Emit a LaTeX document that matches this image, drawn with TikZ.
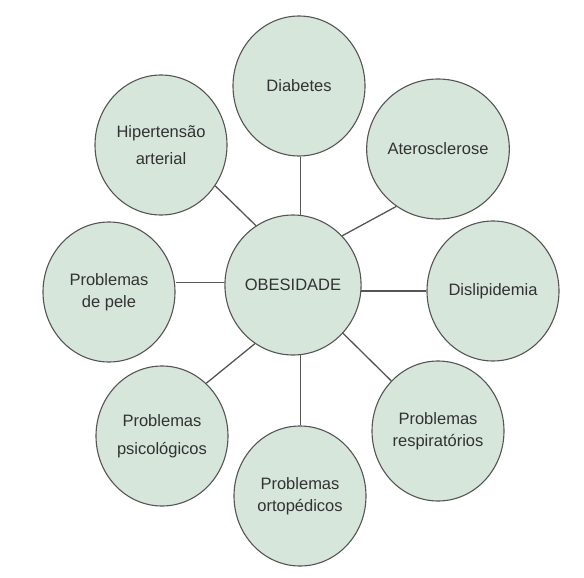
\documentclass[tikz,border=0pt]{standalone}
\usepackage{fontspec}
\setmainfont{Liberation Sans}
\usetikzlibrary{shapes.geometric}
\usetikzlibrary{backgrounds}
\usepackage{xcolor}
\definecolor{bubbleGreen}{RGB}{214, 230, 219}
\definecolor{bubbleEdge}{RGB}{85, 85, 85}
\definecolor{bubbleText}{RGB}{50, 50, 50}
\tikzset{
    bubble/.style={ellipse, fill=bubbleGreen, draw=bubbleEdge, line width=1.1pt,
        minimum width=132pt, minimum height=140pt, inner sep=0pt,
        align=center, text=bubbleText, font=\fontsize{16.5}{22.5}\selectfont},
    link/.style={draw=bubbleEdge, line width=1.3pt}
}

\begin{document}
\begin{tikzpicture}[x=1pt, y=-1pt]
    % Fix the page to the size of the reference
    \useasboundingbox (0,0) rectangle (584,578);

    % Central node
    \node[bubble] (obesidade) at (293,285) {OBESIDADE};

    % Surrounding nodes
    \node[bubble] (diabetes) at (299,86) {Diabetes};
    \node[bubble] (aterosclerose) at (438,149) {Aterosclerose};
    \node[bubble] (dislipidemia) at (493,291) {Dislipidemia};
    \node[bubble] (respiratorios) at (438,431) {Problemas\\respiratórios};
    \node[bubble] (ortopedicos) at (300,496) {Problemas\\ortopédicos};
    \node[bubble] (psicologicos) at (162,436) {Problemas\\[5pt]psicológicos};
    \node[bubble] (pele) at (109,292) {Problemas\\de pele};
    \node[bubble] (hipertensao) at (161,145) {Hipertensão\\[5pt]arterial};

    % Connect every node to the centre
    \begin{scope}[on background layer]
        \draw[link] (obesidade.84) -- (obesidade.84 |- diabetes.south);
        \draw[link] (obesidade.-84) -- (obesidade.-84 |- ortopedicos.north);
        \draw[link] (obesidade.178) -- (obesidade.178 -| pele.east);
        \draw[link] (obesidade.-5) -- (obesidade.-5 -| dislipidemia.west);
        \draw[link] (obesidade.122) -- (hipertensao.-37);
        \draw[link] (obesidade.45) -- (aterosclerose.-126);
        \draw[link] (obesidade.-123) -- (psicologicos.50);
        \draw[link] (obesidade.-44) -- (respiratorios.133);
    \end{scope}
\end{tikzpicture}
\end{document}
